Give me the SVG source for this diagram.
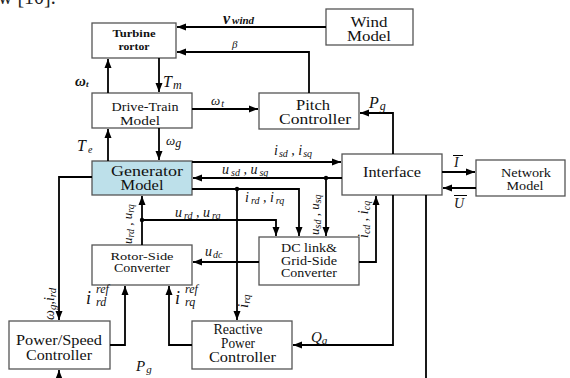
<svg xmlns="http://www.w3.org/2000/svg" width="570" height="378" viewBox="0 0 570 378">
<defs>
<marker id="ah" markerUnits="userSpaceOnUse" markerWidth="10" markerHeight="8" refX="9" refY="4" orient="auto">
<path d="M0,0.5 L9,4 L0,7.5 Z" fill="#000"/>
</marker>
<style>
.box{fill:#fff;stroke:#555;stroke-width:1.3}
.gen{fill:#bde0ea;stroke:#555;stroke-width:1.3}
.t{fill:#111;text-anchor:middle}
.l{font-style:italic;fill:#111}
.c{fill:none;stroke:#000;stroke-width:1.8}
.a{marker-end:url(#ah)}
.sub{font-size:10px}
</style>
</defs>
<rect width="570" height="378" fill="#fff"/>
<g font-family="Liberation Serif, serif">
<text x="-2" y="4" font-size="20" fill="#222">w [10].</text>

<g id="turbine"><rect class="box" x="92" y="23" width="84" height="35"/><text class="t" x="134" y="37" font-size="11" font-weight="bold" textLength="43" lengthAdjust="spacingAndGlyphs">Turbine</text><text class="t" x="134" y="49.5" font-size="10" font-weight="bold" textLength="31" lengthAdjust="spacingAndGlyphs">rortor</text></g>
<g id="wind"><rect class="box" x="326" y="9" width="87" height="36"/><text class="t" x="369" y="26.5" font-size="14" textLength="37" lengthAdjust="spacingAndGlyphs">Wind</text><text class="t" x="369" y="41" font-size="14" textLength="44" lengthAdjust="spacingAndGlyphs">Model</text></g>
<g id="drivetrain"><rect class="box" x="92" y="93" width="100" height="35"/><text class="t" x="145" y="111" font-size="13" textLength="67" lengthAdjust="spacingAndGlyphs">Drive-Train</text><text class="t" x="140" y="125" font-size="13" textLength="40" lengthAdjust="spacingAndGlyphs">Model</text></g>
<g id="pitch"><rect class="box" x="259" y="93" width="100" height="36"/><text class="t" x="313" y="110" font-size="14" textLength="34" lengthAdjust="spacingAndGlyphs">Pitch</text><text class="t" x="315" y="124" font-size="14" textLength="72" lengthAdjust="spacingAndGlyphs">Controller</text></g>
<g id="generator"><rect class="gen" x="92" y="161" width="100" height="34"/><text class="t" x="147" y="176" font-size="14" textLength="72" lengthAdjust="spacingAndGlyphs">Generator</text><text class="t" x="142" y="190" font-size="14" textLength="43" lengthAdjust="spacingAndGlyphs">Model</text></g>
<g id="interface"><rect class="box" x="342" y="154" width="100" height="41"/><text class="t" x="392" y="177" font-size="15" textLength="58" lengthAdjust="spacingAndGlyphs">Interface</text></g>
<g id="network"><rect class="box" x="476" y="160" width="89" height="36"/><text class="t" x="526" y="176.5" font-size="13" textLength="50" lengthAdjust="spacingAndGlyphs">Network</text><text class="t" x="525" y="190" font-size="13" textLength="37" lengthAdjust="spacingAndGlyphs">Model</text></g>
<g id="dclink"><rect class="box" x="259" y="237" width="100" height="48"/><text class="t" x="309" y="252" font-size="12" textLength="56" lengthAdjust="spacingAndGlyphs">DC link&amp;</text><text class="t" x="309" y="265" font-size="12" textLength="56" lengthAdjust="spacingAndGlyphs">Grid-Side</text><text class="t" x="309" y="277" font-size="11.5" textLength="56" lengthAdjust="spacingAndGlyphs">Converter</text></g>
<g id="rotorside"><rect class="box" x="92" y="245" width="100" height="40"/><text class="t" x="142" y="260" font-size="11" textLength="63" lengthAdjust="spacingAndGlyphs">Rotor-Side</text><text class="t" x="142" y="272" font-size="12" textLength="56" lengthAdjust="spacingAndGlyphs">Converter</text></g>
<g id="powerspeed"><rect class="box" x="9" y="321" width="101" height="48"/><text class="t" x="59" y="345" font-size="15" textLength="86" lengthAdjust="spacingAndGlyphs">Power/Speed</text><text class="t" x="59" y="360" font-size="15" textLength="66" lengthAdjust="spacingAndGlyphs">Controller</text></g>
<g id="reactive"><rect class="box" x="192" y="321" width="100" height="48"/><text class="t" x="238" y="334" font-size="14" textLength="49" lengthAdjust="spacingAndGlyphs">Reactive</text><text class="t" x="238" y="348" font-size="14" textLength="34" lengthAdjust="spacingAndGlyphs">Power</text><text class="t" x="242.5" y="362" font-size="14" textLength="67" lengthAdjust="spacingAndGlyphs">Controller</text></g>

<g id="connectors">
<path class="c a" d="M326,27 H177"/>
<path class="c a" d="M309,93 V52 H177"/>
<path class="c a" d="M108,93 V59"/>
<path class="c a" d="M159,58 V92"/>
<path class="c a" d="M192,109 H258"/>
<path class="c a" d="M393,154 V113 H360"/>
<path class="c a" d="M108,161 V129"/>
<path class="c a" d="M159,128 V160"/>
<path class="c a" d="M192,162 H341"/>
<path class="c a" d="M342,178 H193"/>
<path class="c a" d="M326,178 V236"/>
<path class="c a" d="M192,189 H299 V236"/>
<path class="c a" d="M237,189 V320"/>
<path class="c a" d="M142,245 V196"/>
<path class="c a" d="M142,220 H276 V236"/>
<path class="c a" d="M259,262 H193"/>
<path class="c a" d="M359,262 H376 V196"/>
<path class="c a" d="M393,195 V345 H293"/>
<path class="c" d="M426,195 V378"/>
<path class="c a" d="M442,172 H475"/>
<path class="c a" d="M476,188 H443"/>
<path class="c a" d="M92,177 H59 V320"/>
<path class="c a" d="M110,345 H125 V286"/>
<path class="c a" d="M192,345 H169 V286"/>
<path class="c a" d="M59,378 V370"/>
<circle cx="326" cy="178" r="2.2"/>
<circle cx="237" cy="189" r="2.2"/>
<circle cx="142" cy="220" r="2.2"/>
</g>

<g id="labels">
<text class="l" x="223" y="24" font-size="16" font-weight="bold">v<tspan font-size="11" dx="2">wind</tspan></text>
<text class="l" x="232" y="48" font-size="11">β</text>
<text class="l" x="75" y="86" font-size="15" font-weight="bold">ω</text>
<text class="l" x="86" y="87" font-size="9" font-weight="bold">t</text>
<text class="l" x="163" y="87" font-size="16">T<tspan font-size="12" dx="1" dy="2">m</tspan></text>
<text class="l" x="211" y="105" font-size="13">ω<tspan font-size="10" dx="1" dy="2">t</tspan></text>
<text class="l" x="369" y="108" font-size="16">P<tspan font-size="12" dx="1" dy="2">g</tspan></text>
<text class="l" x="77" y="151" font-size="16">T<tspan font-size="10" dx="2" dy="2">e</tspan></text>
<text class="l" x="166" y="145" font-size="13">ω<tspan font-size="12" dy="2">g</tspan></text>
<text class="l" x="274" y="155" font-size="14">i<tspan class="sub" dx="1" dy="2">sd</tspan><tspan dy="-2"> , </tspan>i<tspan class="sub" dx="1" dy="2">sq</tspan></text>
<text class="l" x="222" y="174" font-size="14">u<tspan class="sub" dx="2" dy="2">sd</tspan><tspan dy="-2"> , </tspan>u<tspan class="sub" dx="2" dy="2">sq</tspan></text>
<text class="l" x="245" y="202" font-size="14">i<tspan class="sub" dx="2" dy="2">rd</tspan><tspan dy="-2"> , </tspan>i<tspan class="sub" dx="2" dy="2">rq</tspan></text>
<text class="l" x="175" y="217" font-size="14">u<tspan class="sub" dx="2" dy="2">rd</tspan><tspan dy="-2"> , </tspan>u<tspan class="sub" dx="2" dy="2">rq</tspan></text>
<text class="l" transform="translate(132,244) rotate(-90)" font-size="13">u<tspan class="sub" dy="2">rd</tspan><tspan dy="-2"> , </tspan>u<tspan class="sub" dy="2">rq</tspan></text>
<text class="l" transform="translate(319,235) rotate(-90)" font-size="13">u<tspan class="sub" dy="2">sd</tspan><tspan dy="-2"> , </tspan>u<tspan class="sub" dy="2">sq</tspan></text>
<text class="l" transform="translate(368,238) rotate(-90)" font-size="14">i<tspan class="sub" dy="2">cd</tspan><tspan dy="-2"> , </tspan>i<tspan class="sub" dy="2">cq</tspan></text>
<text class="l" transform="translate(248,308) rotate(-90)" font-size="15">i<tspan font-size="11" dy="2">rq</tspan></text>
<text class="l" transform="translate(54,320) rotate(-90)" font-size="14">ω<tspan font-size="11" dy="2">g</tspan><tspan dy="-2">,</tspan>i<tspan font-size="11" dy="2">rd</tspan></text>
<text class="l" x="205" y="256" font-size="14">u<tspan font-size="10" dx="1" dy="2">dc</tspan></text>
<text class="l" x="86" y="304" font-size="18">i</text>
<text class="l" x="96" y="293" font-size="12">ref</text>
<text class="l" x="96" y="306" font-size="12">rd</text>
<text class="l" x="175" y="304" font-size="18">i</text>
<text class="l" x="185" y="293" font-size="12">ref</text>
<text class="l" x="185" y="306" font-size="12">rq</text>
<text class="l" x="311" y="342" font-size="15">Q<tspan font-size="11" dy="2">g</tspan></text>
<text class="l" x="136" y="371" font-size="15">P<tspan font-size="11" dx="1" dy="2">g</tspan></text>
<text class="l" x="454" y="167" font-size="14">I</text>
<path d="M453,155.5 H463" stroke="#000" stroke-width="1"/>
<text class="l" x="454" y="208" font-size="14">U</text>
<path d="M454,195.5 H467" stroke="#000" stroke-width="1"/>
</g>
</g>
</svg>
